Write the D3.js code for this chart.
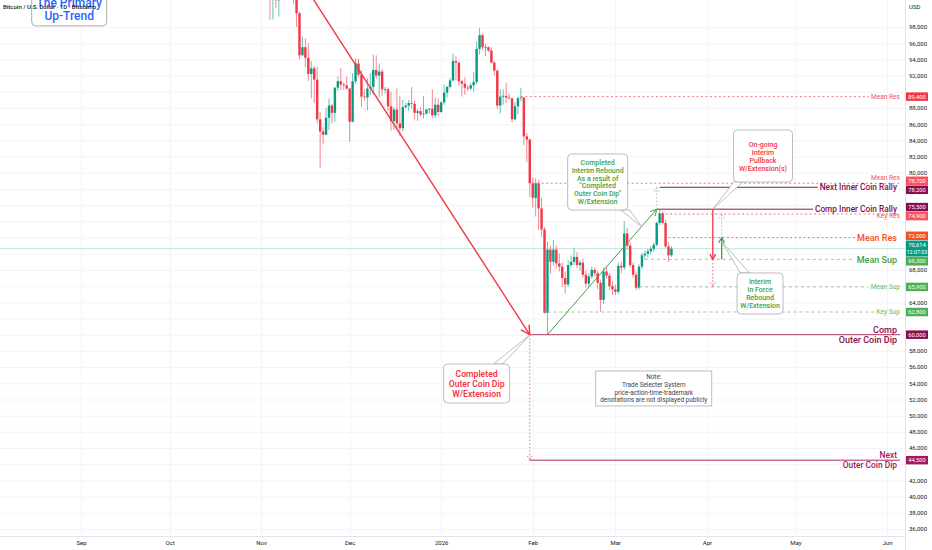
<!DOCTYPE html>
<html><head><meta charset="utf-8">
<script src="https://cdn.jsdelivr.net/npm/d3@7"></script>
<style>
html,body{margin:0;padding:0;background:#fff;}
svg{display:block;font-family:Roboto,"Noto Sans",sans-serif;}
</style></head><body>
<svg id="c" width="932" height="550"></svg>
<script>
// ---------------- DATA ----------------
const firstDay = "2025-11-01", lastDay = "2026-03-20";
const openP = [
109600,110100,110600,106500,101500,103900,101300,103300,102300,104700,105900,103000,101600,99700,94500,95500,94200,92200,92900,91500,86600,85100,84700,86800,88300,87400,90500,91300,90900,90800,
90400,86300,91300,93500,92100,89400,89300,90400,90600,92700,92000,92500,90300,90300,88200,86400,87800,86100,85500,88100,88300,88600,88500,87400,87600,87200,87300,87800,87900,87100,88400,
87500,88700,89900,90600,91400,93800,93600,91300,91000,90500,90400,90800,91200,95300,97000,95500,95500,95100,93600,92600,88300,89400,89500,89300,89200,86600,88200,89200,89300,84500,84100,
78700,76900,78700,75600,73000,62700,70500,69000,70500,68800,68400,67000,66200,68600,69000,69600,68600,68900,67400,66300,67200,68000,67600,66400,64300,67800,67300,66000,
65600,65300,68500,68300,72500,71000,68600,67400,65800,68400,69800,70000,70300,70600,71100,73800,75000,73800,70900,69800];
const highP = [
110600,111200,110800,107000,104500,104200,104000,103400,105000,106600,107400,105300,104000,99900,96800,96600,96000,93800,93200,93100,87500,85600,88000,89200,88500,90600,91900,92900,91200,91900,
90400,92300,94100,94100,92700,90300,91700,92300,94600,94500,93500,92800,90600,90500,90000,88100,90400,89500,89000,88600,89000,90600,88900,87900,88100,89500,87900,88000,90300,89300,89200,
88800,90900,90700,91700,94700,94400,93700,91500,91800,90800,91100,92400,96200,97900,97200,95900,95600,95500,93800,92800,90300,90300,91100,89800,89200,88700,89400,90500,89300,84900,84200,
79400,79300,79100,76900,73300,71500,71000,71700,71000,70000,68900,67800,69200,69800,70700,70200,69200,69400,67900,67600,68400,68300,67900,66800,68300,68400,67600,66600,
66200,68900,69000,74000,73200,71400,68900,67800,68700,70100,70400,70600,70900,71400,74000,75500,75300,74200,71400,70900];
const lowP = [
109400,109600,105300,98900,98900,100300,99300,101500,101400,104300,102500,100800,98000,94000,94500,93000,91300,89200,88600,86100,80600,83500,84600,85300,86100,86300,90100,90200,90200,90300,
83800,86200,91000,91800,88100,88900,87700,89600,89600,91600,89300,89500,89800,87600,85200,85300,85300,84500,85100,87900,87600,87900,86600,86400,86900,86700,87200,87300,86800,86800,87000,
87400,88400,89300,90400,91300,91400,90800,89400,89600,90100,90200,90000,90900,94600,95100,94400,94900,93500,92000,87900,87300,88400,88600,89000,86200,86500,87200,88800,83400,81300,77000,
75700,74600,72900,72100,62600,60000,67500,68500,68200,67800,65900,65100,65900,68300,68600,68200,67900,67000,65800,65900,66900,67200,65600,62800,63800,66900,65500,64900,
64900,65000,67600,68000,70500,68300,67100,65500,65600,68100,69300,69500,69900,70300,70900,73500,73600,70700,69000,69600];
const closeP = [
110100,110600,106500,101500,103900,101300,103300,102300,104700,105900,103000,101600,99700,94500,95500,94200,92200,92900,91500,86600,85100,84700,86800,88300,87400,90500,91300,90900,90800,90400,
86300,91300,93500,92100,89400,89300,90400,90600,92700,92000,92500,90300,90300,88200,86400,87800,86100,85500,88100,88300,88600,88500,87400,87600,87200,87300,87800,87900,87100,88400,87500,
88700,89900,90600,91400,93800,93600,91300,91000,90500,90400,90800,91200,95300,97000,95500,95500,95100,93600,92600,88300,89400,89500,89300,89200,86600,88200,89200,89300,84500,84100,78700,
76900,78700,75600,73000,62700,70500,69000,70500,68800,68400,67000,66200,68600,69000,69600,68600,68900,67400,66300,67200,68000,67600,66400,64300,67800,67300,66000,65600,
65300,68500,68300,72500,71000,68600,67400,65800,68400,69800,70000,70300,70600,71100,73800,75000,73800,70900,69800,70614];

const lastPrice = 70614, countdown = "12:07:03";
const symbolTitle = "Bitcoin / U.S. Dollar · 1D · Bitstamp";

// horizontal levels
const levelPrices = [89400, 78700, 78200, 75500, 74900, 72000, 69300, 65900, 62800, 60000, 44500];
const levelStarts = ["2026-01-28","2026-02-01","2026-03-16","2026-03-15","2026-03-18","2026-03-19","2026-03-11","2026-03-09","2026-02-06","2026-01-31","2026-01-31"];
const levelLabels = [["Mean Res"],["Mean Res"],["Next Inner Coin Rally"],["Comp Inner Coin Rally"],["Key Res"],["Mean Res"],["Mean Sup"],["Mean Sup"],["Key Sup"],["Comp","Outer Coin Dip"],["Next","Outer Coin Dip"]];
const levelKinds = ["resS","resSup","rally","rally","resSdn","resB","supB","supS","supS","dip","dip2"];

// trend lines
const trendFromDates = ["2025-10-06","2026-02-06"];
const trendFromPrices = [126100, 60000];
const trendToDates = ["2026-01-31","2026-03-15"];
const trendToPrices = [60000, 75500];

// vertical projection arrows
const arrowDates = ["2026-01-31","2026-03-15","2026-04-03","2026-04-03","2026-04-06","2026-04-06"];
const arrowFrom = [60000, 75500, 75500, 69300, 69300, 72000];
const arrowTo = [44500, 78200, 69300, 65900, 72000, 74900];
const arrowKinds = ["redDot","greenDot","red","redDot","green","greenDot"];

// callouts
const calloutTexts = [
 ["Completed","Interim Rebound","As a result of","\"Completed","Outer Coin Dip\"","W/Extension"],
 ["On-going","Interim","Pullback","W/Extension(s)"],
 ["Interim","In Force","Rebound","W/Extension"],
 ["Completed","Outer Coin Dip","W/Extension"]];
const calloutDates = ["2026-02-23","2026-04-20","2026-04-19","2026-01-13"];
const calloutPrices = [78860, 82070, 65090, 53970];
const calloutTipDates = ["2026-03-10","2026-04-03","2026-04-06","2026-01-31"];
const calloutTipPrices = [73300, 75500, 71500, 59950];

const noteText = ["Note:","Trade Selecter System","price-action-time-trademark","denotations are not displayed publicly"];
const noteDate = "2026-03-14", notePrice = 53355;
const trendBoxText = ["The Primary","Up-Trend"];
const trendBoxDate = "2025-08-28", trendBoxPrice = 100300;

const monthTicks = ["2025-09-01","2025-10-01","2025-11-01","2025-12-01","2026-01-01","2026-02-01","2026-03-01","2026-04-01","2026-05-01","2026-06-01"];

// ---------------- STYLE / SCALES ----------------
const parse = d3.utcParse("%Y-%m-%d");
const dates = d3.utcDay.range(parse(firstDay), d3.utcDay.offset(parse(lastDay),1));
const candles = dates.map((d,i)=>({d, o:openP[i], h:highP[i], l:lowP[i], c:closeP[i]}));

const PR = 905, PB = 536;
const x = d3.scaleUtc().domain([parse("2025-09-01"), parse("2026-06-01")]).range([81, 887]);
const y = d3.scaleLinear().domain([36000, 98000]).range([529, 27]);

const UP="#089981", DN="#f23645", MAROON="#880e4f", MAROON2="#a3175c";
const svg = d3.select("#c");
svg.append("rect").attr("width",932).attr("height",550).attr("fill","#fff");
svg.append("defs").append("clipPath").attr("id","plot").append("rect").attr("x",0).attr("y",0).attr("width",PR).attr("height",PB);

const grid = svg.append("g").attr("clip-path","url(#plot)");
const priceTicks = d3.range(36000, 98001, 2000);
grid.selectAll(".hg").data(priceTicks).join("line").attr("x1",0).attr("x2",PR)
  .attr("y1",d=>y(d)+0.5).attr("y2",d=>y(d)+0.5).attr("stroke","#f3f4f7").attr("stroke-width",1);
grid.selectAll(".vg").data(monthTicks).join("line").attr("y1",0).attr("y2",PB)
  .attr("x1",d=>Math.round(x(parse(d)))+0.5).attr("x2",d=>Math.round(x(parse(d)))+0.5).attr("stroke","#f3f4f7");

const plot = svg.append("g").attr("clip-path","url(#plot)");

// current price line
plot.append("line").attr("x1",0).attr("x2",PR).attr("y1",y(lastPrice)).attr("y2",y(lastPrice))
  .attr("stroke","#089981").attr("stroke-opacity",0.35).attr("stroke-width",0.8);

// candles
const cg = plot.append("g");
candles.forEach(k=>{
  const cx = x(k.d), col = k.c>=k.o?UP:DN;
  cg.append("line").attr("x1",cx).attr("x2",cx).attr("y1",y(k.h)).attr("y2",y(k.l)).attr("stroke",col).attr("stroke-width",0.8).attr("stroke-opacity",0.75);
  const top = y(Math.max(k.o,k.c)), bot = y(Math.min(k.o,k.c));
  cg.append("rect").attr("x",cx-1.2).attr("width",2.4).attr("y",top).attr("height",Math.max(0.8,bot-top)).attr("fill",col);
});

function arrowHead(g, x1,y1,x2,y2,col,len,dash,w){
  const a = Math.atan2(y2-y1,x2-x1), s = 0.5;
  [a+Math.PI-s, a+Math.PI+s].forEach(b=>{
    g.append("line").attr("x1",x2).attr("y1",y2).attr("x2",x2+len*Math.cos(b)).attr("y2",y2+len*Math.sin(b))
     .attr("stroke",col).attr("stroke-width",w).attr("stroke-dasharray",dash||null);
  });
}

// levels
const styleOf = {
  resS:{line:"#f47a86",dash:"2,2.5",text:"#f7525f",size:6.6,weight:400,tag:"#f23645",end:900,off:0},
  resSup:{line:"#f47a86",dash:"2,2.5",text:"#f7525f",size:6.6,weight:400,tag:"#f7525f",end:900,off:-5.5},
  resSdn:{line:"#f47a86",dash:"2,2.5",text:"#f7525f",size:6.6,weight:400,tag:"#f7525f",end:900,off:2},
  resB:{line:"#f47a86",dash:"2,2.5",text:"#f4511e",size:9,weight:500,tag:"#f4511e",end:897,off:0},
  supS:{line:"#9ccc9e",dash:"3,3",text:"#66bb6a",size:6.6,weight:400,tag:"#4caf50",end:900,off:0},
  supB:{line:"#9ccc9e",dash:"3,3",text:"#43a047",size:9,weight:500,tag:"#4caf50",end:897,off:0},
  rally:{line:"#8e1c52",dash:null,text:MAROON,size:8.3,weight:500,tag:MAROON,end:897,off:0},
  dip:{line:"#b03a6a",dash:null,text:MAROON,size:9,weight:500,tag:MAROON,end:897,off:0},
  dip2:{line:"#b5266a",dash:null,text:MAROON2,size:8.4,weight:500,tag:MAROON2,end:897,off:0}
};
const lv = svg.append("g");
levelPrices.forEach((p,i)=>{
  const st = styleOf[levelKinds[i]], ly = y(p), x0 = x(parse(levelStarts[i]));
  const lab = levelLabels[i];
  if(lab.length===1){
    const t = lv.append("text").attr("x",st.end).attr("y",ly+st.off).attr("dy","0.35em").attr("text-anchor","end")
      .attr("fill",st.text).attr("font-size",st.size).attr("font-weight",st.weight).text(lab[0]);
    const tw = t.node().getComputedTextLength();
    lv.insert("line","text").attr("x1",x0).attr("x2",st.off===0?st.end-tw-2:900).attr("y1",ly).attr("y2",ly)
      .attr("stroke",st.line).attr("stroke-width",1).attr("stroke-dasharray",st.dash);
  } else {
    lv.append("line").attr("x1",x0).attr("x2",900).attr("y1",ly).attr("y2",ly).attr("stroke",st.line).attr("stroke-width",1);
    lv.append("text").attr("x",st.end).attr("y",ly-2).attr("text-anchor","end").attr("fill",st.text)
      .attr("font-size",st.size).attr("font-weight",st.weight).text(lab[0]);
    lv.append("text").attr("x",st.end).attr("y",ly+2).attr("dy","0.72em").attr("text-anchor","end").attr("fill",st.text)
      .attr("font-size",st.size).attr("font-weight",st.weight).text(lab[1]);
  }
});

// trend lines
const tg = svg.append("g").attr("clip-path","url(#plot)");
trendFromDates.forEach((d,i)=>{
  const x1=x(parse(d)), y1=y(trendFromPrices[i]), x2=x(parse(trendToDates[i])), y2=y(trendToPrices[i]);
  const col = i===0?"#f23645":"#43a047", w = i===0?1.4:1;
  tg.append("line").attr("x1",x1).attr("y1",y1).attr("x2",x2).attr("y2",y2).attr("stroke",col).attr("stroke-width",w);
  arrowHead(tg,x1,y1,x2,y2,col,i===0?10:7,null,w);
});

// vertical arrows
const arrowStyle = {
  red:{col:"#f23645",dash:null,w:1.3}, redDot:{col:"#f06292",dash:"1.5,2",w:1},
  green:{col:"#43a047",dash:null,w:1.3}, greenDot:{col:"#9ccc9e",dash:"1.5,2",w:1}
};
arrowDates.forEach((d,i)=>{
  const s = arrowStyle[arrowKinds[i]], ax = x(parse(d)), y1=y(arrowFrom[i]), y2=y(arrowTo[i]);
  tg.append("line").attr("x1",ax).attr("x2",ax).attr("y1",y1).attr("y2",y2).attr("stroke",s.col).attr("stroke-width",s.w).attr("stroke-dasharray",s.dash);
  arrowHead(tg,ax,y1,ax,y2,s.col,6,s.dash,s.w);
});

// callouts
const calloutSize = [[60,56],[59,52],[46,41],[66,39]];
const calloutFont = [{c:"#43a047",s:7,lh:7.8,w:500},{c:"#f23645",s:7,lh:8,w:500},{c:"#43a047",s:7,lh:7.7,w:500},{c:"#f23645",s:8.6,lh:10,w:600}];
const cg2 = svg.append("g");
calloutTexts.forEach((lines,i)=>{
  const cx=x(parse(calloutDates[i])), cy=y(calloutPrices[i]);
  const [bw,bh]=calloutSize[i], tx=x(parse(calloutTipDates[i])), ty=y(calloutTipPrices[i]);
  const dx=tx-cx, dy=ty-cy, t=Math.min((bw/2)/Math.abs(dx),(bh/2)/Math.abs(dy));
  const bx=cx+dx*t, by=cy+dy*t;
  const horiz = Math.abs((bh/2)/dy) <= Math.abs((bw/2)/dx);
  const b1 = horiz?[bx-4.5,by]:[bx,by-4.5], b2 = horiz?[bx+4.5,by]:[bx,by+4.5];
  cg2.append("path").attr("d",`M${b1[0]},${b1[1]}L${tx},${ty}L${b2[0]},${b2[1]}Z`).attr("fill","#fff").attr("stroke","#a9acb4").attr("stroke-width",0.8);
  cg2.append("rect").attr("x",cx-bw/2).attr("y",cy-bh/2).attr("width",bw).attr("height",bh).attr("rx",4)
    .attr("fill","#fff").attr("stroke","#a9acb4").attr("stroke-width",0.8);
  const f = calloutFont[i], y0 = cy-(lines.length-1)/2*f.lh;
  lines.forEach((L,j)=>cg2.append("text").attr("x",cx).attr("y",y0+j*f.lh).attr("dy","0.36em").attr("text-anchor","middle")
    .attr("fill",f.c).attr("font-size",f.s).attr("font-weight",f.w).text(L));
});

// note
{
  const nx=x(parse(noteDate)), ny=y(notePrice), w=116, h=35;
  cg2.append("rect").attr("x",nx-w/2).attr("y",ny-h/2).attr("width",w).attr("height",h).attr("fill","#fff").attr("stroke","#a9acb4").attr("stroke-width",0.8);
  noteText.forEach((L,j)=>cg2.append("text").attr("x",nx).attr("y",ny-11.5+j*7.7).attr("dy","0.36em").attr("text-anchor","middle")
    .attr("fill","#3c3f47").attr("font-size",6.4).text(L));
}
// primary up-trend box
{
  const bx=x(parse(trendBoxDate)), by=y(trendBoxPrice), w=75, h=35;
  cg2.append("rect").attr("x",bx-w/2).attr("y",by-h/2).attr("width",w).attr("height",h).attr("rx",4).attr("fill","#fff").attr("stroke","#9598a1").attr("stroke-width",0.8);
  trendBoxText.forEach((L,j)=>cg2.append("text").attr("x",bx).attr("y",by-6+j*13).attr("dy","0.36em").attr("text-anchor","middle")
    .attr("fill","#2962ff").attr("font-size",12).attr("font-weight",500).text(L));
}
svg.append("text").attr("x",3).attr("y",9).attr("fill","#131722").attr("font-size",6).attr("font-weight",500).text(symbolTitle);

// axes borders
svg.append("rect").attr("x",PR).attr("y",0).attr("width",932-PR).attr("height",550).attr("fill","#fff");
svg.append("rect").attr("x",0).attr("y",PB).attr("width",932).attr("height",550-PB).attr("fill","#fff");
svg.append("line").attr("x1",PR+0.5).attr("x2",PR+0.5).attr("y1",0).attr("y2",550).attr("stroke","#e0e3eb");
svg.append("line").attr("x1",0).attr("x2",PR).attr("y1",PB+0.5).attr("y2",PB+0.5).attr("stroke","#e0e3eb");

// price tags with collision avoidance
const tagPrices = levelPrices.concat([lastPrice]);
const tagCols = levelKinds.map(k=>styleOf[k].tag).concat(["#089981"]);
let tags = tagPrices.map((p,i)=>({p, col:tagCols[i], h: i===tagPrices.length-1?16:8.5, cy:y(p), last:i===tagPrices.length-1}));
tags.sort((a,b)=>a.cy-b.cy);
for(let it=0;it<30;it++){
  for(let i=1;i<tags.length;i++){
    const a=tags[i-1], b=tags[i], ov=(a.cy+a.h/2+0.5)-(b.cy-b.h/2);
    if(ov>0){a.cy-=ov/2;b.cy+=ov/2;}
  }
}

// axis ticks (hidden where a price tag sits)
const visibleTicks = priceTicks.filter(v=>tags.every(t=>Math.abs(y(v)-t.cy) > t.h/2+3));
const yAxis = d3.axisRight(y).tickValues(visibleTicks).tickFormat(d3.format(",")).tickSize(0).tickPadding(4);
const ya = svg.append("g").attr("transform",`translate(${PR},0)`).call(yAxis);
ya.select(".domain").remove();
ya.selectAll("text").attr("font-size",6).attr("fill","#131722").attr("font-family","Roboto");
svg.append("text").attr("x",909).attr("y",9).attr("font-size",6).attr("fill","#131722").text("USD");

const xAxis = d3.axisBottom(x).tickValues(monthTicks.map(parse))
  .tickFormat(d=>d.getUTCMonth()===0?d3.utcFormat("%Y")(d):d3.utcFormat("%b")(d)).tickSize(0).tickPadding(5);
const xa = svg.append("g").attr("transform",`translate(0,${PB})`).call(xAxis);
xa.select(".domain").remove();
xa.selectAll("text").attr("font-size",6).attr("fill","#131722").attr("font-family","Roboto");

const tgG = svg.append("g");
tags.forEach(t=>{
  tgG.append("rect").attr("x",PR+1).attr("y",t.cy-t.h/2).attr("width",22).attr("height",t.h).attr("fill",t.col);
  if(t.last){
    tgG.append("text").attr("x",PR+12).attr("y",t.cy-3.6).attr("dy","0.35em").attr("text-anchor","middle").attr("fill","#fff").attr("font-size",5.8).text(d3.format(",")(t.p));
    tgG.append("text").attr("x",PR+12).attr("y",t.cy+3.8).attr("dy","0.35em").attr("text-anchor","middle").attr("fill","#fff").attr("font-size",5.4).text(countdown);
  } else {
    tgG.append("text").attr("x",PR+12).attr("y",t.cy).attr("dy","0.35em").attr("text-anchor","middle").attr("fill","#fff").attr("font-size",5.8).text(d3.format(",")(t.p));
  }
});
</script>
</body></html>
